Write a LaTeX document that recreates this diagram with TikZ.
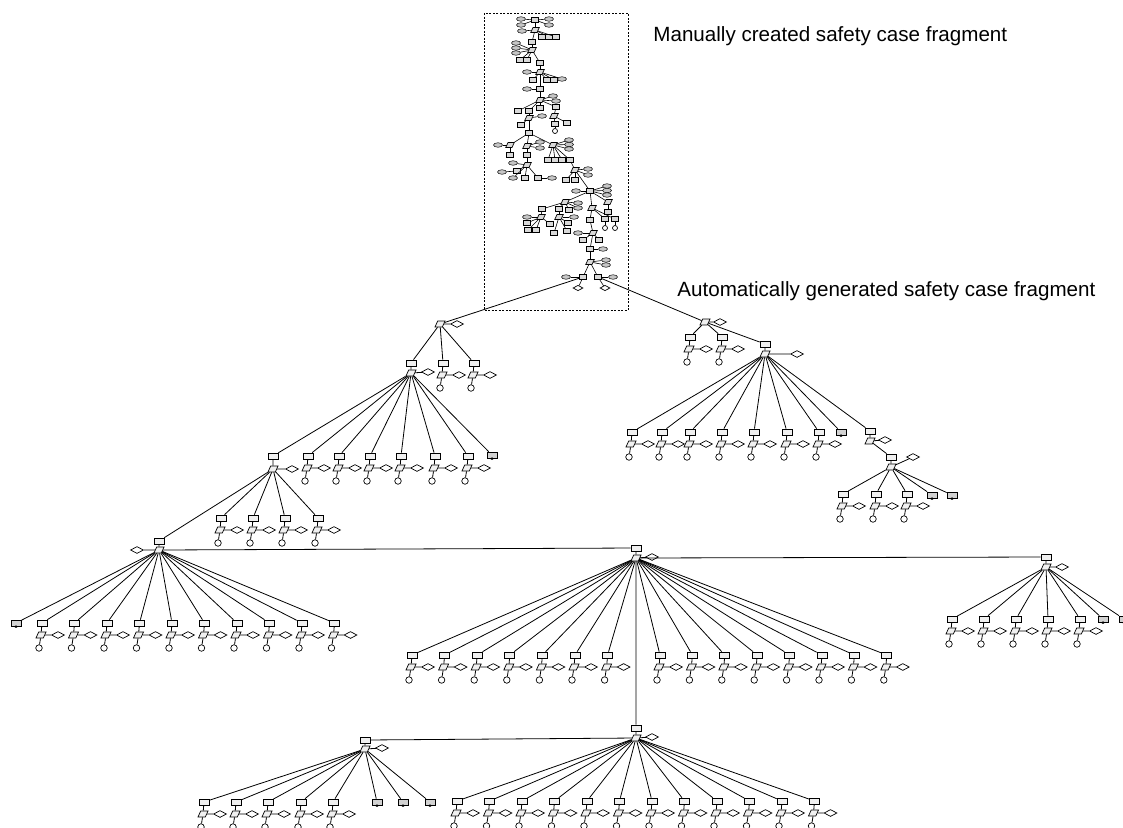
\documentclass[tikz,border=0pt]{standalone}
\usepackage{fontspec}
\newfontfamily\labelfont{Liberation Sans}
\usetikzlibrary{shapes.geometric}
\newcommand{\gunit}[3]{%
  \node[goal] (#1g) at (#2,#3) {};
  \node[strat] (#1s) at (#2-1,#3+12) {};
  \node[assum] (#1a) at (#2+16,#3+12) {};
  \node[sol] (#1c) at (#2-3,#3+25) {};
  \draw (#1g) -- (#1s) -- (#1a) (#1s) -- (#1c);}
\begin{document}
\begin{tikzpicture}[x=1pt,y=-1pt,line width=0.8pt,
goal/.style={draw,rectangle,fill=gray!12,line width=0.7pt,minimum width=10pt,minimum height=6pt,inner sep=0pt},
undev/.style={goal,fill=gray!35,label={[diamond,fill=black,inner sep=0pt,minimum width=4pt,minimum height=3pt,label distance=-1.6pt]below:{}}},
strat/.style={draw,trapezium,trapezium left angle=60,trapezium right angle=120,trapezium stretches=true,fill=gray!12,line width=0.7pt,minimum width=10pt,minimum height=6pt,inner sep=1pt},
assum/.style={draw,diamond,line width=0.7pt,fill=white,minimum width=13pt,minimum height=7pt,inner sep=0pt},
sol/.style={draw,circle,line width=0.7pt,fill=white,minimum size=6.5pt,inner sep=0pt},
mgoal/.style={goal,fill=gray!30,minimum width=7.5pt,minimum height=5pt},
mstrat/.style={strat,fill=gray!30,minimum width=8.5pt,minimum height=5pt},
mctx/.style={draw,ellipse,fill=gray!45,line width=0.5pt,minimum width=9pt,minimum height=4.5pt,inner sep=0pt},
msol/.style={sol,minimum size=5pt},
massum/.style={assum,minimum width=10pt,minimum height=5.5pt},
caption/.style={anchor=west,inner sep=0pt,font=\labelfont\fontsize{20.6}{24}\selectfont}]
\useasboundingbox (0,0) rectangle (1123,827);
\draw[line width=0.7pt,dash pattern=on 2pt off 1.5pt] (484,13) rectangle (628,310);
\node[caption] (mtext) at (653,36) {Manually created safety case fragment};
\node[caption] (atext) at (677,291) {Automatically generated safety case fragment};
\foreach \n/\x/\y in {mg1/535/20,mg2/542/37,mg3/549/37,mg4/556/37,mg5/532/42,mg6/520/60,mg7/527/60,mg8/540/63,
  mg9/533/80,mg10/547/80,mg11/554/80,mg12/540/89,mg13/518/111,mg14/529/111,mg15/540/108,mg16/556/107,
  mg17/521/125,mg18/555/124,mg19/567/123,mg20/529/133,mg21/510/155,mg22/527/155,mg24/548/160,mg25/555/160,
  mg26/562/160,mg27/570/160,mg28/517/171,mg29/525/178,mg30/538/178,mg31/566/180,mg32/575/180,mg33/590/191,
  mg34/542/209,mg35/559/209,mg36/569/210,mg37/608/212,mg38/590/220,mg39/605/219,mg40/615/219,mg41/527/223,
  mg42/528/230,mg43/536/230,mg44/550/224,mg45/568/223,mg46/567/231,mg47/554/233,mg48/583/240,mg49/599/240,
  mg50/590/249,mg51/583/277,mg52/598/277}
  \node[mgoal] (\n) at (\x,\y) {};
\foreach \n/\x/\y in {ms1/535/30,ms2/532/50,ms3/540/72,ms4/540/100,ms5/529/118,ms6/554/116,ms7/510/145,ms8/527/146,
  ms9/553/145,ms10/527/165,ms11/575/170,ms12/565/202,ms13/592/208,ms14/608/202,ms15/541/217,ms16/559/217,
  ms17/593/233,ms18/590/262}
  \node[mstrat] (\n) at (\x,\y) {};
\foreach \n/\x/\y in {mc1/521/19,mc2/521/25,mc3/549/19,mc4/549/25,mc5/522/31,mc6/516/43,mc7/516/48,mc8/516/53,
  mc9/527/72,mc10/562/79,mc11/527/89,mc12/553/96,mc13/556/101,mc14/542/116,mc15/498/145,mc16/540/142,
  mc17/540/148,mc18/569/140,mc19/569/144.5,mc20/569/149,mc21/513/163,mc22/502/172,mc23/513/178,mc24/552/178,
  mc25/588/169,mc26/588/175,mc27/576/191,mc28/607/186,mc29/607/190.5,mc30/607/195,mc31/578/203,mc32/578/208,
  mc33/527/217,mc34/574/217,mc35/578/233,mc36/603/249,mc37/606/260,mc38/606/265,mc39/566/277,mc40/613/277}
  \node[mctx] (\n) at (\x,\y) {};
\foreach \n/\x/\y in {mo1/555/131,mo2/605/228,mo3/615/228}
  \node[msol] (\n) at (\x,\y) {};
\foreach \n/\x/\y in {md1/578/288,md2/605/288}
  \node[massum] (\n) at (\x,\y) {};
\foreach \a/\b in {mc1/mg1,mc2/mg1,mc3/mg1,mc4/mg1,mg1/ms1,mc5/ms1,ms1/mg2,ms1/mg3,ms1/mg4,ms1/mg5,
  mg5/ms2,ms2/mc6,ms2/mc7,ms2/mc8,ms2/mg6,ms2/mg7,ms2/mg8,
  mg8/ms3,ms3/mc9,ms3/mg9,ms3/mg10,ms3/mg11,ms3/mc10,ms3/mg12,mc11/mg12,
  mg12/ms4,ms4/mc12,ms4/mc13,ms4/mg13,ms4/mg14,ms4/mg15,ms4/mg16,
  mg14/ms5,ms5/mc14,ms5/mg17,ms5/mg20,mg16/ms6,ms6/mg18,ms6/mg19,mg18/mo1,
  mg20/ms7,mg20/ms8,mg20/ms9,ms7/mc15,ms7/mg21,ms8/mc16,ms8/mc17,ms8/mg22,
  ms9/mc18,ms9/mc19,ms9/mc20,ms9/mg24,ms9/mg25,ms9/mg26,ms9/mg27,
  mg22/ms10,ms10/mc21,ms10/mg28,ms10/mg29,ms10/mg30,mg28/mc22,ms10/mc23,mg30/mc24,
  mg27/ms11,ms11/mc25,ms11/mc26,ms11/mg31,ms11/mg32,ms11/mg33,
  mg33/mc27,mg33/mc28,mg33/mc29,mg33/mc30,mg33/ms12,mg33/ms13,mg33/ms14,
  ms12/mc31,ms12/mc32,ms12/mg34,ms12/mg35,ms12/mg36,
  mg34/ms15,ms15/mc33,ms15/mg41,ms15/mg42,ms15/mg43,ms15/mg44,
  mg35/ms16,ms16/mc34,ms16/mg45,ms16/mg46,ms16/mg47,
  ms14/mg37,ms13/mg38,ms13/mg39,ms13/mg40,mg39/mo2,mg40/mo3,
  mg38/ms17,ms17/mc35,ms17/mg48,ms17/mg49,ms17/mg50,
  mg50/mc36,mg50/ms18,ms18/mc37,ms18/mc38,ms18/mg51,ms18/mg52,
  mg51/mc39,mg52/mc40,mg51/md1,mg52/md2}
  \draw[line width=0.6pt] (\a) -- (\b);
% left branch
\node[strat] (L) at (440,324) {};
\node[assum] (La) at (457,324) {};
\draw (mg51) -- (L) -- (La);
\node[goal] (L1g) at (411,363) {};
\node[strat] (L1s) at (411,373) {};
\node[assum] (L1a) at (428,372) {};
\draw (L) -- (L1g) -- (L1s) -- (L1a);
\gunit{L2}{443}{363} \gunit{L3}{474}{363}
\draw (L) -- (L2g) (L) -- (L3g);
\node[goal] (K) at (273,456) {};
\node[strat] (Ks) at (273,469) {};
\node[assum] (Ka) at (292,469) {};
\draw (L1s) -- (K) -- (Ks) -- (Ka);
\foreach \x [count=\i] in {308,339,370,401,435,468} {\gunit{K\i}{\x}{456} \draw (L1s) -- (K\i g);}
\node[undev] (Ku) at (492,455) {};
\draw (L1s) -- (Ku);
\foreach \x [count=\i] in {221,253,285,318} {\gunit{J\i}{\x}{518} \draw (Ks) -- (J\i g);}
\node[goal] (P) at (159,541) {};
\node[strat] (Ps) at (159,550) {};
\node[assum] (Pa) at (137,550) {};
\draw (Ks) -- (P) -- (Ps) -- (Pa);
\node[undev] (Pu) at (16,623) {};
\draw (Ps) -- (Pu);
\foreach \i in {0,...,9} {\gunit{P\i}{42+32.5*\i}{623} \draw (Ps) -- (P\i g);}
% middle branch
\node[goal] (M) at (636,548) {};
\node[strat] (Ms) at (636,558) {};
\node[assum] (Ma) at (652,557) {};
\draw (Ps) -- (M) -- (Ms) -- (Ma);
\foreach \i in {0,...,6} {\gunit{A\i}{412+32.6*\i}{655} \draw (Ms) -- (A\i g);}
\foreach \i in {0,...,7} {\gunit{B\i}{660+32.4*\i}{655} \draw (Ms) -- (B\i g);}
\node[goal] (Q) at (1046,557) {};
\node[strat] (Qs) at (1046,567) {};
\node[assum] (Qa) at (1062,567) {};
\draw (Ms) -- (Q) -- (Qs) -- (Qa);
\foreach \x [count=\i] in {952,984,1016,1048,1080} {\gunit{Q\i}{\x}{619} \draw (Qs) -- (Q\i g);}
\foreach \x [count=\i] in {1103,1124} {\node[undev] (Qu\i) at (\x,619) {}; \draw (Qs) -- (Qu\i);}
\node[goal] (N) at (636,728) {};
\node[strat] (Ns) at (636,738) {};
\node[assum] (Na) at (652,737) {};
\draw (Ms) -- (N) -- (Ns) -- (Na);
\foreach \i in {0,...,11} {\gunit{E\i}{457+32.5*\i}{801} \draw (Ns) -- (E\i g);}
\node[goal] (T) at (365,740) {};
\node[strat] (Ts) at (365,749) {};
\node[assum] (Ta) at (382,748) {};
\draw (Ns) -- (T) -- (Ts) -- (Ta);
\foreach \x [count=\i] in {204,236,268,301,333} {\gunit{T\i}{\x}{802} \draw (Ts) -- (T\i g);}
\foreach \x [count=\i] in {377,403,430} {\node[undev] (Tu\i) at (\x,802) {}; \draw (Ts) -- (Tu\i);}
% right branch
\node[strat] (R) at (705,322) {};
\node[assum] (Ra) at (720,322) {};
\draw (mg52) -- (R) -- (Ra);
\gunit{R1}{690}{337} \gunit{R2}{722}{337}
\draw (R) -- (R1g) (R) -- (R2g);
\node[goal] (S) at (765,344) {};
\node[strat] (Ss) at (765,354) {};
\node[assum] (Sa) at (797,354) {};
\draw (R) -- (S) -- (Ss) -- (Sa);
\foreach \x [count=\i] in {632,662,690,722,754,787,819} {\gunit{S\i}{\x}{432} \draw (Ss) -- (S\i g);}
\node[undev] (Su) at (841,432) {};
\draw (Ss) -- (Su);
\node[goal] (V) at (870,431) {};
\node[strat] (Vs) at (870,441) {};
\node[assum] (Va) at (885,440) {};
\draw (Ss) -- (V) -- (Vs) -- (Va);
\node[goal] (W) at (891,457) {};
\node[strat] (Ws) at (891,467) {};
\node[assum] (Wa) at (913,457) {};
\draw (Vs) -- (W) -- (Ws) -- (Wa);
\foreach \x [count=\i] in {843,876,907} {\gunit{W\i}{\x}{494} \draw (Ws) -- (W\i g);}
\foreach \x [count=\i] in {932,952} {\node[undev] (Wu\i) at (\x,495) {}; \draw (Ws) -- (Wu\i);}
\end{tikzpicture}
\end{document}
